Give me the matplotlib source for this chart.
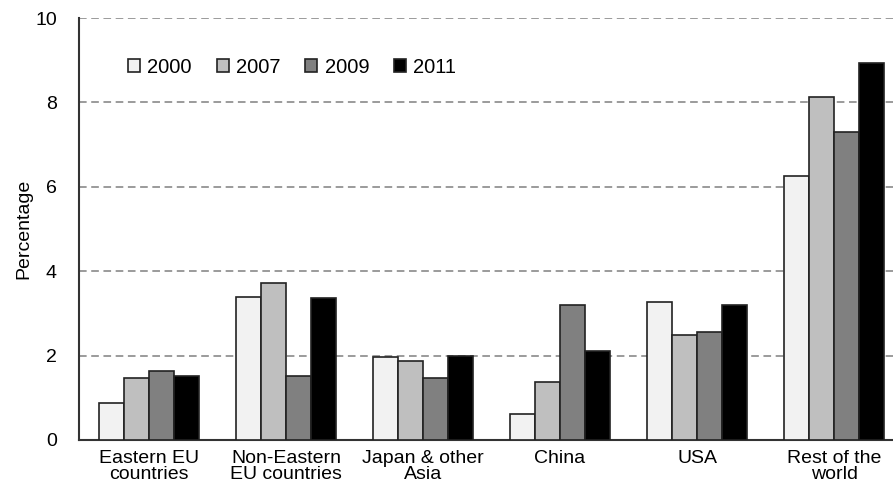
import numpy as np
import matplotlib.pyplot as plt

plt.rcParams['font.family'] = ['Liberation Sans', 'DejaVu Sans']

# categories and yearly shares (percent)
categories = ['Eastern EU\ncountries', 'Non-Eastern\nEU countries', 'Japan & other\nAsia',
              'China', 'USA', 'Rest of the\nworld']
years = ['2000', '2007', '2009', '2011']
v2000 = [0.87, 3.40, 1.96, 0.61, 3.27, 6.25]
v2007 = [1.48, 3.73, 1.88, 1.37, 2.49, 8.14]
v2009 = [1.64, 1.52, 1.48, 3.19, 2.56, 7.30]
v2011 = [1.52, 3.37, 1.98, 2.12, 3.19, 8.93]

series = [v2000, v2007, v2009, v2011]
colors = ['#f2f2f2', '#bfbfbf', '#808080', '#000000']

fig = plt.figure(figsize=(8.93, 4.86), dpi=100)
ax = fig.add_axes([0.0885, 0.0947, 0.9115, 0.868])

x = np.arange(len(categories))
w = 0.182
for i, (vals, c, yr) in enumerate(zip(series, colors, years)):
    ax.bar(x + (i - 1.5) * w, vals, width=w, color=c, edgecolor='#222222',
           linewidth=1.2, label=yr, zorder=3)

ax.set_ylim(0, 10)
ax.set_xlim(-0.51, 5.43)
ax.set_yticks(range(0, 11, 2))
ax.yaxis.grid(True, linestyle=(0, (5, 3)), color='#808080', linewidth=1.1, zorder=0)
ax.set_xticks(x)
ax.set_xticklabels(categories, fontsize=14, linespacing=0.92)
ax.tick_params(axis='both', length=0, labelsize=14)
ax.tick_params(axis='y', pad=16)
ax.tick_params(axis='x', pad=7)
for s in ['top', 'right']:
    ax.spines[s].set_visible(False)
ax.spines['left'].set_color('#333333')
ax.spines['bottom'].set_color('#333333')
ax.spines['left'].set_linewidth(1.5)
ax.spines['bottom'].set_linewidth(1.5)
ax.set_ylabel('Percentage', fontsize=14, labelpad=2)

ax.legend(loc='upper left', bbox_to_anchor=(0.05, 0.925), ncol=4, frameon=False,
          fontsize=14.5, handlelength=0.6, handleheight=0.6, handletextpad=0.35,
          columnspacing=1.25, borderaxespad=0)

fig.savefig('out.png', dpi=100)
